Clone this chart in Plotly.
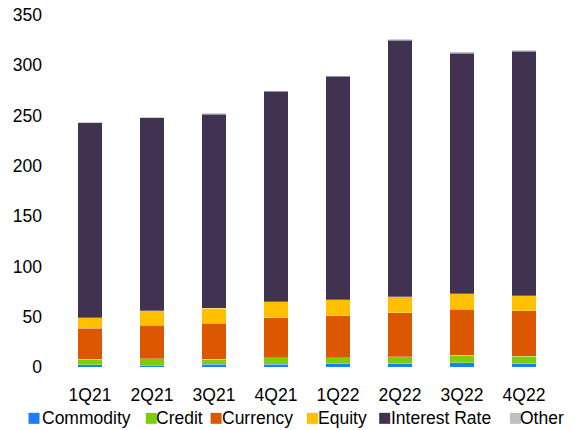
import plotly.graph_objects as go

quarters = ["1Q21", "2Q21", "3Q21", "4Q21", "1Q22", "2Q22", "3Q22", "4Q22"]
commodity = [2.0, 1.5, 2.7, 2.7, 3.0, 3.0, 4.0, 3.0]
credit = [5.7, 6.8, 5.0, 6.3, 6.3, 7.3, 7.7, 7.7]
currency = [30.8, 33.2, 36.0, 40.0, 41.7, 43.7, 45.6, 45.3]
equity = [10.5, 14.5, 14.8, 16.0, 16.0, 16.0, 15.7, 15.0]
interest_rate = [194.0, 192.0, 193.0, 209.0, 222.0, 255.0, 239.0, 243.0]
other = [0.8, 0.8, 0.8, 0.8, 0.8, 0.8, 1.3, 0.8]

series_names = ["Commodity", "Credit", "Currency", "Equity", "Interest Rate", "Other"]
series_values = [commodity, credit, currency, equity, interest_rate, other]
colors = ["#1A7FFF", "#7CCE0A", "#DB5800", "#FFC000", "#413252", "#C0C0C0"]

# page body has an 8px default margin; size the figure to fill the rest of the window
OFF = 8
W, H = 574 - OFF, 430 - OFF
L, T = 59 - OFF, 15 - OFF
R = W - (555 - OFF)
B = H - (366.7 - OFF)
pw, ph = W - L - R, H - T - B

fig = go.Figure()
for name, vals, col in zip(series_names, series_values, colors):
    fig.add_trace(go.Bar(
        x=quarters, y=vals, name=name,
        marker=dict(color=col, line=dict(color="rgba(255,255,255,0.45)", width=0.6)),
        showlegend=False,
    ))

font = "Liberation Sans, Arial, sans-serif"

# manual compact legend (swatch + label); pixel positions converted to paper coords
legend_sq = [28.5, 145.8, 210.6, 306.9, 379.2, 510]
legend_tx = [39.5, 154.3, 220.1, 315.9, 388.7, 517.5]
legend_y = 418
sw = 11
shapes = []
annotations = []
for name, col, sx, tx in zip(series_names, colors, legend_sq, legend_tx):
    sx -= OFF
    tx -= OFF
    py = legend_y - OFF
    shapes.append(dict(
        type="rect", xref="paper", yref="paper",
        x0=(sx - L) / pw, x1=(sx + sw - L) / pw,
        y0=(H - B - (py + sw / 2)) / ph, y1=(H - B - (py - sw / 2)) / ph,
        fillcolor=col, line=dict(width=0),
    ))
    annotations.append(dict(
        text=name, xref="paper", yref="paper",
        x=(tx - L) / pw, y=(H - B - py) / ph,
        xanchor="left", yanchor="middle", showarrow=False,
        font=dict(family=font, size=17.5, color="#000000"),
    ))

fig.update_layout(
    barmode="stack",
    bargap=0.6,
    width=W, height=H,
    margin=dict(l=L, r=R, t=T, b=B, pad=0, autoexpand=False),
    paper_bgcolor="white", plot_bgcolor="white",
    font=dict(family=font, size=18, color="#000000"),
    shapes=shapes,
    annotations=annotations,
    showlegend=False,
)
fig.update_xaxes(showgrid=False, showline=False, zeroline=False, automargin=False,
                 tickfont=dict(size=17.5), ticklabelstandoff=15)
fig.update_yaxes(range=[0, 350], dtick=50, showgrid=False, showline=False, automargin=False,
                 zeroline=False, tickfont=dict(size=17.5), ticklabelstandoff=16,
                 ticklabeloverflow="allow")

fig.write_html("out.html")
